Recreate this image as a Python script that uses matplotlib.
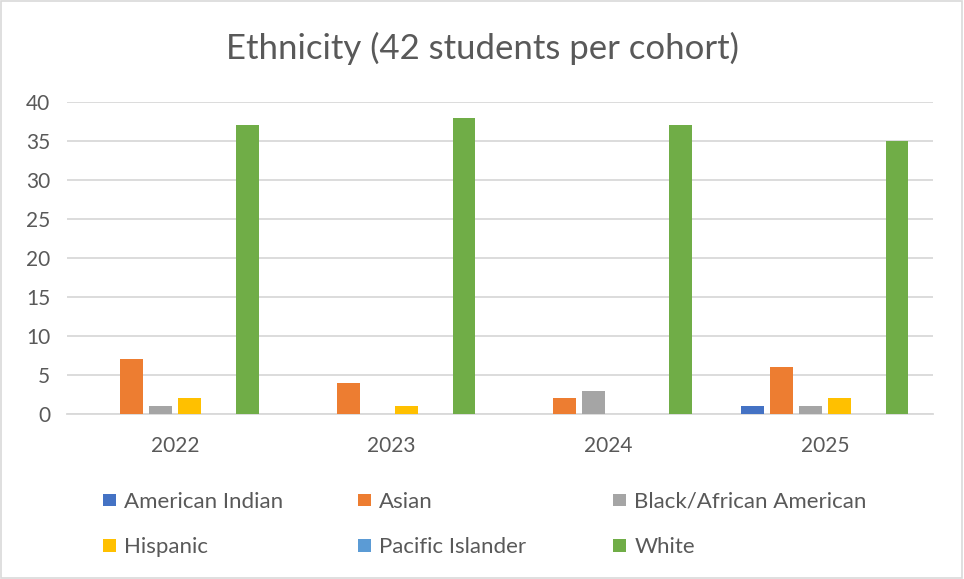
import numpy as np
import matplotlib.pyplot as plt
from matplotlib.patches import Rectangle

years = ["2022", "2023", "2024", "2025"]
groups = ["American Indian", "Asian", "Black/African American",
          "Hispanic", "Pacific Islander", "White"]
american_indian = [0, 0, 0, 1]
asian = [7, 4, 2, 6]
black = [1, 0, 3, 1]
hispanic = [2, 1, 0, 2]
pacific_islander = [0, 0, 0, 0]
white = [37, 38, 37, 35]
series = [american_indian, asian, black, hispanic, pacific_islander, white]
colors = ["#4472C4", "#ED7D31", "#A5A5A5", "#FFC000", "#5B9BD5", "#70AD47"]

plt.rcParams['font.family'] = ['Lato', 'DejaVu Sans']
txt = "#595959"

fig = plt.figure(figsize=(9.64, 5.79), dpi=100)
ax = fig.add_axes([67 / 964, 1 - 414 / 579, 866 / 964, 312 / 579])

x = np.arange(len(years))
pitch = 0.1336
width = 0.105
handles = []
for i, (vals, c) in enumerate(zip(series, colors)):
    b = ax.bar(x + (i - 2.5) * pitch, vals, width, color=c, label=groups[i], zorder=3)
    handles.append(b)

ax.set_xlim(-0.5, 3.5)
ax.set_ylim(0, 40)
ax.set_yticks(range(0, 41, 5))
ax.set_xticks(x)
ax.set_xticklabels(years)
ax.grid(axis='y', color="#d9d9d9", linewidth=1.3, zorder=0)
for s in ['top', 'right', 'left']:
    ax.spines[s].set_visible(False)
ax.spines['bottom'].set_color("#d9d9d9")
ax.spines['bottom'].set_linewidth(1.3)
ax.tick_params(length=0, labelsize=15, colors=txt)
ax.tick_params(axis='x', pad=16)
ax.tick_params(axis='y', pad=12)

fig.text(0.5, 1 - 48 / 579, "Ethnicity (42 students per cohort)", ha='center', va='center',
         fontsize=25, color=txt)

# legend: Excel-style equal-width columns, one legend per column
col_x = [94, 349, 604]
for j, cx in enumerate(col_x):
    idx = [j, j + 3]
    fig.legend([handles[k] for k in idx], [groups[k] for k in idx],
               loc='upper left', bbox_to_anchor=(cx / 964, 1 - 483 / 579),
               borderaxespad=0, frameon=False, labelcolor=txt, fontsize=16,
               handlelength=0.6, handleheight=0.5, handletextpad=0.36, labelspacing=1.14)

fig.add_artist(Rectangle((0.001, 0.001), 0.997, 0.997, transform=fig.transFigure,
                         fill=False, edgecolor="#d9d9d9", linewidth=1.2))

fig.savefig("out.png", dpi=100)
